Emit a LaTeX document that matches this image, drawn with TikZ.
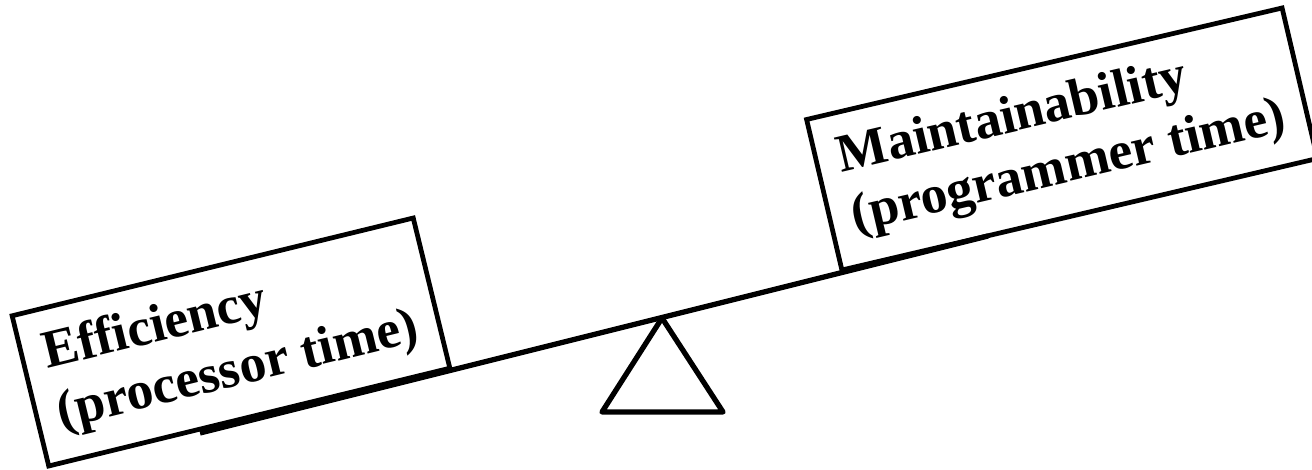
\documentclass[tikz,border=0pt]{standalone}
\usepackage{fontspec}
\setmainfont{Liberation Serif}
\usetikzlibrary{positioning}
\tikzset{
  weight/.style ={rectangle,draw,line width=2.7pt,align=left,inner sep=0pt,
                  font=\fontsize{30.5}{35}\selectfont\bfseries},
  beam/.style   ={line width=3pt},
  fulcrum/.style={line width=3pt,line join=round}
}

\begin{document}
\begin{tikzpicture}[x=0.02cm,y=-0.02cm]
  \useasboundingbox (0,0) rectangle (1312,470);

  % Nodes
  \node (effic) [weight,rotate=13.7,minimum width=235pt,minimum height=88pt]
        at (231,342) {Efficiency\\(processor time)};
  \node (maint) [weight,rotate=13.2,minimum width=278pt,minimum height=88pt]
        at (1062,139) {Maintainability\\(programmer time)};
  \coordinate (pivot) at (662,318);
  \coordinate (beamL) at (200,433);
  \coordinate (beamR) at (988,236);

  % Beam and fulcrum
  \draw [beam] (beamL) -- (beamR);
  \draw [fulcrum] (pivot) -- ++(-60,94) -- ++(121,0) -- cycle;
\end{tikzpicture}
\end{document}
